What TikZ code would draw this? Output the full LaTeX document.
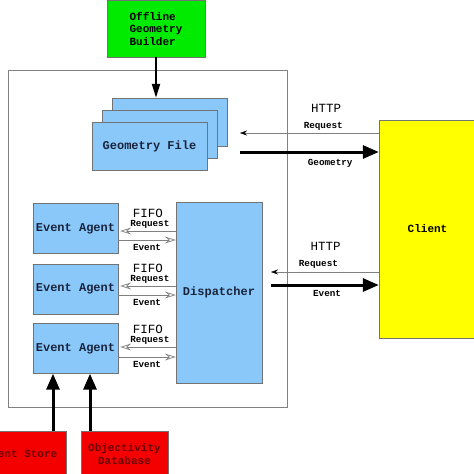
\documentclass[tikz,border=0pt]{standalone}
\usepackage{fontspec}
\setmonofont{Liberation Mono}
\usepackage{tikz}
\usetikzlibrary{shapes,arrows,arrows.meta}

\definecolor{boxblue}{RGB}{138,200,250}
\definecolor{boxgreen}{RGB}{0,235,0}
\definecolor{boxred}{RGB}{245,0,0}
\definecolor{boxyellow}{RGB}{255,255,0}
\definecolor{txtblue}{RGB}{25,35,60}
\definecolor{txtred}{RGB}{105,0,0}

\begin{document}
\begin{tikzpicture}[x=1pt,y=-1pt,>=stealth',semithick,font=\ttfamily\bfseries]
\tikzstyle{every node}=[inner sep=0pt]
\tikzstyle{box}=[draw=black!55,thin,rectangle]
\tikzstyle{blue box}=[box,fill=boxblue,text=txtblue,font=\ttfamily\bfseries\fontsize{12}{14}\selectfont]
\tikzstyle{red box}=[box,fill=boxred,text=txtred,align=center,font=\ttfamily\bfseries\fontsize{11}{13}\selectfont]
\tikzstyle{small}=[font=\ttfamily\bfseries\fontsize{9.3}{11}\selectfont]
\tikzstyle{proto}=[font=\ttfamily\mdseries\fontsize{12.5}{14}\selectfont]
\tikzstyle{fifo}=[draw=black!50,line width=0.7pt,-{Stealth[open,length=11pt,width=7pt,inset=4pt]}]
\tikzstyle{http}=[draw=gray,thin,-{Stealth[black,length=7pt,width=5pt]}]
\tikzstyle{fat}=[line width=3pt,-{Triangle[length=16pt,width=13pt]}]
\useasboundingbox (0,0) rectangle (474,474);

% server frame
\node[draw=gray,thin,minimum width=279,minimum height=337] (server) at (147.5,238.5) {};

% geometry
\node[box,fill=boxgreen,align=left,font=\ttfamily\bfseries\fontsize{11}{12.5}\selectfont,
      minimum width=98,minimum height=57] (builder) at (156,28.5) {Offline\\Geometry\\Builder};
\node[blue box,minimum width=115,minimum height=48] (gf3) at (169.5,122) {};
\node[blue box,minimum width=115,minimum height=48] (gf2) at (159.5,134) {};
\node[blue box,minimum width=115,minimum height=48] (gf1) at (149.5,146) {Geometry File};
\path (builder) edge[line width=2pt,-{Triangle[length=14pt,width=8pt]}] (gf3.north -| builder);

% client
\node[box,fill=boxyellow,font=\ttfamily\bfseries\fontsize{11}{13}\selectfont,
      minimum width=97,minimum height=218] (client) at (427.5,229) {Client};
\coordinate (greq) at (240,133);
\coordinate (ggeo) at (240,152);
\node[proto] at (326,108) {HTTP};
\path (client.west |- greq) edge[http] node[small,pos=0.4,above=2pt]{Request} (greq)
      (ggeo) edge[fat] node[small,pos=0.65,below=6pt]{Geometry} (client.west |- ggeo);

% dispatcher and agents
\node[blue box,minimum width=86,minimum height=181] (disp) at (219,292.5) {Dispatcher};
\foreach \i/\yc/\yr/\ye in {1/228.5/231/240, 2/289/286/295, 3/348.5/347/357}{
  \node[blue box,minimum width=85,minimum height=50] (ea\i) at (75.5,\yc) {Event Agent};
  \node[proto] at (148,\yr-18) {FIFO};
  \path (disp.west |- 0,\yr) edge[fifo,shorten >=2pt] node[small,pos=0.45,above=2pt]{Request} (ea\i.east |- 0,\yr)
        (ea\i.east |- 0,\ye) edge[fifo] node[small,pos=0.5,below=4pt]{Event} (disp.west |- 0,\ye);
}
\coordinate (ereq) at (271,272);
\coordinate (eev) at (271,285);
\node[proto] at (325.5,246) {HTTP};
\path (client.west |- ereq) edge[http] node[small,pos=0.56,above=3pt]{Request} (ereq)
      (eev) edge[fat] node[small,pos=0.52,below=4pt]{Event} (client.west |- eev);

% data sources
\node[red box,minimum width=90,minimum height=46] (es) at (21,454) {Event Store};
\node[red box,minimum width=87,minimum height=46] (odb) at (124.5,454) {Objectivity\\Database};
\path (es.north -| 53,0) edge[fat] (ea3.south -| 53,0)
      (odb.north -| 90,0) edge[fat] (ea3.south -| 90,0);
\end{tikzpicture}
\end{document}
